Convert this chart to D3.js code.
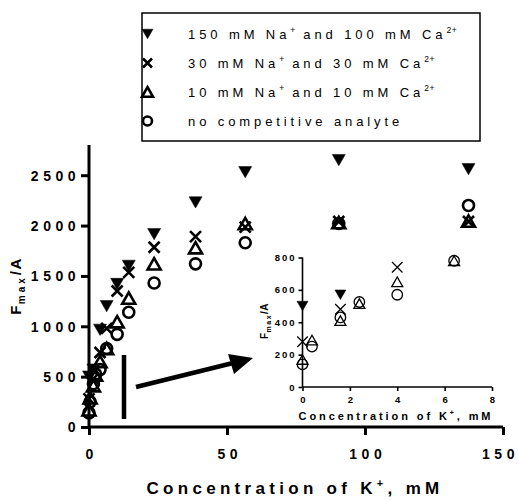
<!DOCTYPE html>
<html>
<head>
<meta charset="utf-8">
<script src="https://cdn.jsdelivr.net/npm/d3@7"></script>
<style>
  body { margin: 0; background: #fff; }
  svg { display: block; font-family: "Liberation Sans", Arial, sans-serif; }
</style>
</head>
<body>
<svg id="chart" width="519" height="500"></svg>
<script>
// K+ concentrations (mM) for the full titration
const concMain = [0, 0.4, 1.6, 2.4, 4, 6.4, 10.2, 14.4, 23.6, 38.6, 56.6, 90.5, 137.5];
// Fmax/A for each background condition (null = not measured)
const naCa150 = [500, null, 570, null, 965, 1200, 1420, 1600, 1915, 2230, 2530, 2650, 2560];
const naCa30  = [280, null, 480, null, 740, 980, 1350, 1535, 1785, 1890, 1985, 2040, 2040];
const naCa10  = [170, 290, 410, 515, 650, 780, 1045, 1280, 1620, 1780, 2020, 2030, 2045];
const noComp  = [140, 250, 430, 525, 570, 780, 920, 1140, 1430, 1620, 1830, 2020, 2200];

const mainXTicks = [0, 50, 100, 150];
const mainYTicks = [0, 500, 1000, 1500, 2000, 2500];
const insetXTicks = [0, 2, 4, 6, 8];
const insetYTicks = [0, 200, 400, 600, 800];

const legendLabels = [
  ["150 mM Na", "+", " and 100 mM Ca", "2+"],
  ["30 mM Na", "+", " and 30 mM Ca", "2+"],
  ["10 mM Na", "+", " and 10 mM Ca", "2+"],
  ["no competitive analyte"]
];

const seriesDefs = [
  { values: naCa150, shape: "down" },
  { values: naCa30,  shape: "times" },
  { values: naCa10,  shape: "up" },
  { values: noComp,  shape: "circle" }
];

const svg = d3.select("#chart");
const fmt = d3.format("d");

// marker path generators, s = overall width in px
function markerPath(shape, s) {
  const h = s / 2;
  if (shape === "down") {
    const th = s * 0.87;
    return `M${-h},${-th/2}L${h},${-th/2}L0,${th/2}Z`;
  }
  if (shape === "up") {
    const th = s * 0.87;
    return `M${-h},${th/2}L${h},${th/2}L0,${-th/2}Z`;
  }
  if (shape === "times") {
    return `M${-h},${-h}L${h},${h}M${-h},${h}L${h},${-h}`;
  }
  const r = h;
  return `M${r},0A${r},${r} 0 1,1 ${-r},0A${r},${r} 0 1,1 ${r},0Z`;
}

function plotSeries(g, xs, ys, sizes) {
  seriesDefs.forEach(def => {
    const pts = concMain.map((c, i) => ({ c, v: def.values[i] }))
      .filter(d => d.v !== null && xs.domain()[0] <= d.c && d.c <= xs.domain()[1] && d.v <= ys.domain()[1] * 1.001);
    const filled = def.shape === "down";
    const s = def.shape === "circle" ? sizes.circle : def.shape === "times" ? sizes.times : sizes.tri;
    g.selectAll(null).data(pts).enter().append("path")
      .attr("transform", d => `translate(${xs(d.c)},${ys(d.v)})`)
      .attr("d", markerPath(def.shape, s))
      .attr("fill", filled ? "#000" : "none")
      .attr("stroke", "#000")
      .attr("stroke-width", filled ? 0.5 : sizes.sw)
      .attr("stroke-linejoin", "miter");
  });
}

// ---------- main plot ----------
const x = d3.scaleLinear().domain([0, 150]).range([89, 503]);
const y = d3.scaleLinear().domain([0, 2800]).range([427, 145]);

const main = svg.append("g");

const xAxis = main.append("g")
  .attr("transform", `translate(0,${y(0)})`)
  .call(d3.axisBottom(x).tickValues(mainXTicks).tickFormat(fmt).tickSize(8).tickPadding(14));
const yAxis = main.append("g")
  .attr("transform", `translate(${x(0)},0)`)
  .call(d3.axisLeft(y).tickValues(mainYTicks).tickFormat(fmt).tickSize(8).tickPadding(1));

[xAxis, yAxis].forEach(a => {
  a.select(".domain").attr("stroke", "#000").attr("stroke-width", 3);
  a.selectAll(".tick line").attr("stroke", "#000").attr("stroke-width", 3);
  a.selectAll(".tick text")
    .attr("fill", "#000")
    .style("font-size", "14px")
    .style("font-weight", "bold")
    .style("letter-spacing", "4.5px");
});
// centre the glyphs on each tick; keep the last label inside the page edge
xAxis.selectAll(".tick text").attr("dx", d => d === 150 ? "-3px" : "2.25px");
xAxis.select(".domain").attr("d", `M${x(0)},0H${x(150)}`);
yAxis.select(".domain").attr("d", `M0,${y(0)}V${y(2800)}`);
yAxis.selectAll(".tick text").attr("dy", "0.35em");

plotSeries(main, x, y, { tri: 13, times: 11, circle: 11, sw: 2.6 });

// axis titles
const xt = main.append("text")
  .attr("x", 295).attr("y", 494)
  .attr("text-anchor", "middle")
  .style("font-size", "17px").style("font-weight", "bold").style("letter-spacing", "4.3px");
xt.append("tspan").text("Concentration of K");
xt.append("tspan").attr("dy", -7).style("font-size", "11px").text("+");
xt.append("tspan").attr("dy", 7).text(", mM");

const yt = main.append("text")
  .attr("transform", "translate(21,286) rotate(-90)")
  .attr("text-anchor", "middle")
  .style("font-size", "15px").style("font-weight", "bold").style("letter-spacing", "1.5px");
yt.append("tspan").text("F");
yt.append("tspan").attr("dy", 4).style("font-size", "10px").style("letter-spacing", "3px").text("max");
yt.append("tspan").attr("dy", -4).text("/A");

// highlight bar over the low-concentration range and arrow to the inset
main.append("line")
  .attr("x1", 124).attr("x2", 124).attr("y1", 355).attr("y2", 419)
  .attr("stroke", "#000").attr("stroke-width", 4.5);
main.append("line")
  .attr("x1", 136).attr("y1", 387).attr("x2", 233).attr("y2", 363)
  .attr("stroke", "#000").attr("stroke-width", 4.5);
main.append("path")
  .attr("d", "M253,358 L228,354 L234,374 Z")
  .attr("fill", "#000");

// ---------- inset ----------
const xi = d3.scaleLinear().domain([0, 8]).range([302.5, 492]);
const yi = d3.scaleLinear().domain([0, 800]).range([387, 257.5]);
const inset = svg.append("g");

const xiAxis = inset.append("g")
  .attr("transform", `translate(0,${yi(0)})`)
  .call(d3.axisBottom(xi).tickValues(insetXTicks).tickFormat(fmt).tickSize(4).tickPadding(5));
const yiAxis = inset.append("g")
  .attr("transform", `translate(${xi(0)},0)`)
  .call(d3.axisLeft(yi).tickValues(insetYTicks).tickFormat(fmt).tickSize(4).tickPadding(2));
[xiAxis, yiAxis].forEach(a => {
  a.select(".domain").attr("stroke", "#000").attr("stroke-width", 1.6);
  a.selectAll(".tick line").attr("stroke", "#000").attr("stroke-width", 1.6);
  a.selectAll(".tick text")
    .attr("fill", "#000")
    .style("font-size", "9.5px")
    .style("font-weight", "bold")
    .style("letter-spacing", "2px");
});
xiAxis.selectAll(".tick text").attr("dx", "1px");
xiAxis.select(".domain").attr("d", `M${xi(0)},0H${xi(8)}`);
yiAxis.select(".domain").attr("d", `M0,${yi(0)}V${yi(800)}`);

plotSeries(inset, xi, yi, { tri: 11, times: 10.5, circle: 10.5, sw: 1.3 });

const xit = inset.append("text")
  .attr("x", 396).attr("y", 420)
  .attr("text-anchor", "middle")
  .style("font-size", "11px").style("font-weight", "bold").style("letter-spacing", "2.9px");
xit.append("tspan").text("Concentration of K");
xit.append("tspan").attr("dy", -5).style("font-size", "7px").text("+");
xit.append("tspan").attr("dy", 5).text(", mM");

const yit = inset.append("text")
  .attr("transform", "translate(268,321) rotate(-90)")
  .attr("text-anchor", "middle")
  .style("font-size", "10px").style("font-weight", "bold").style("letter-spacing", "0.5px");
yit.append("tspan").text("F");
yit.append("tspan").attr("dy", 3).style("font-size", "7px").style("letter-spacing", "1.5px").text("max");
yit.append("tspan").attr("dy", -3).text("/A");

// ---------- legend ----------
const legend = svg.append("g");
legend.append("rect")
  .attr("x", 142).attr("y", 13).attr("width", 338).attr("height", 128)
  .attr("fill", "#fff").attr("stroke", "#000").attr("stroke-width", 1.5);

const rowY = d3.scalePoint().domain(d3.range(legendLabels.length)).range([34, 121]);
seriesDefs.forEach((def, i) => {
  const filled = def.shape === "down";
  legend.append("path")
    .attr("transform", `translate(147.5,${rowY(i)})`)
    .attr("d", markerPath(def.shape, def.shape === "circle" ? 9 : def.shape === "times" ? 9 : 11))
    .attr("fill", filled ? "#000" : "none")
    .attr("stroke", "#000")
    .attr("stroke-width", filled ? 0.5 : 2.6);
  const t = legend.append("text")
    .attr("x", 188).attr("y", rowY(i)).attr("dy", "0.35em")
    .style("font-size", "13px").style("letter-spacing", "3.9px");
  const parts = legendLabels[i];
  parts.forEach((p, k) => {
    const sup = k % 2 === 1;
    const ts = t.append("tspan").text(p);
    if (sup) ts.attr("dy", -6).style("font-size", "8.5px").style("letter-spacing", "0.5px");
    else if (k > 0) ts.attr("dy", 6);
  });
});
</script>
</body>
</html>
